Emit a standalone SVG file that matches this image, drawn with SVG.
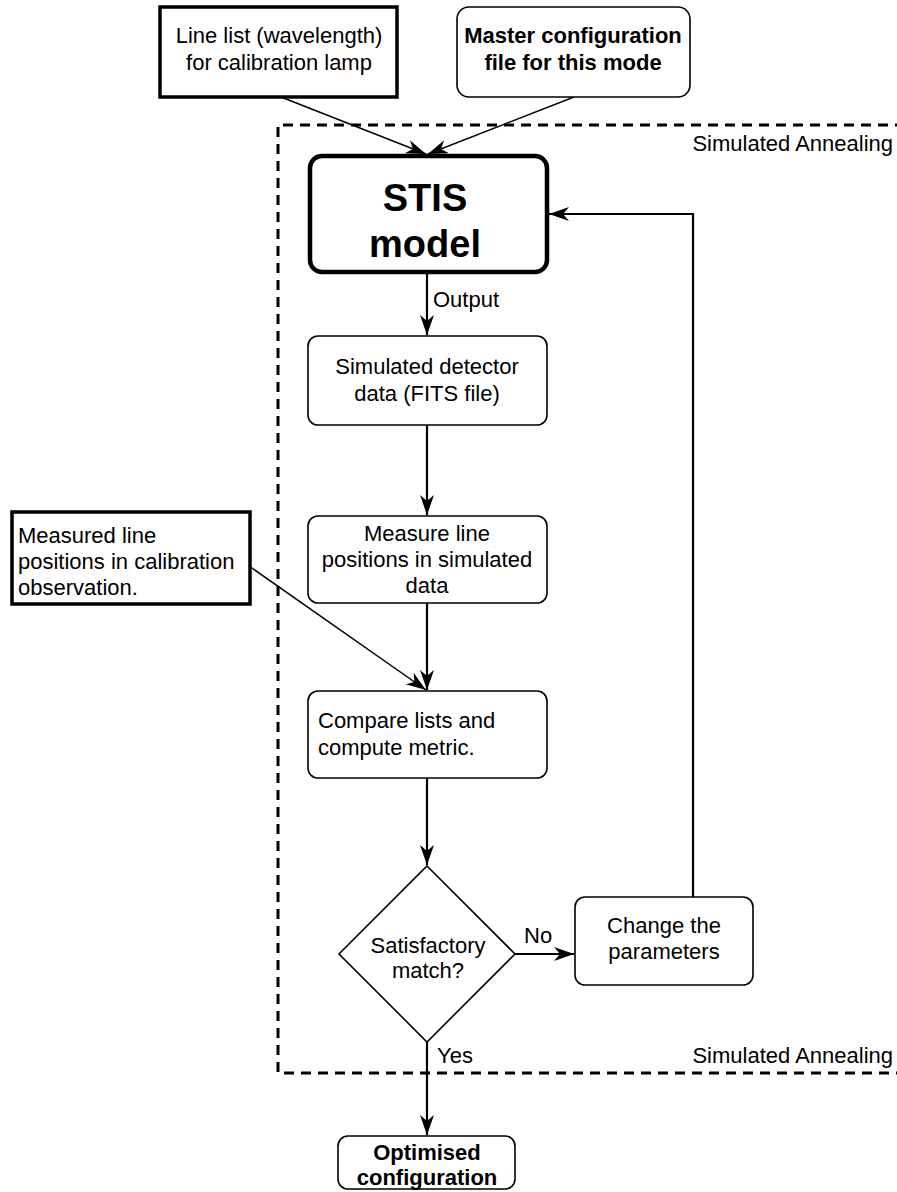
<svg xmlns="http://www.w3.org/2000/svg" width="897" height="1192" viewBox="0 0 897 1192">
  <style>
    text { font-family: "Liberation Sans", Arial, Helvetica, sans-serif; font-size: 22px; fill: #000; }
    .b { font-weight: bold; }
    .big { font-size: 38px; font-weight: bold; }
    .mid { text-anchor: middle; }
    .end { text-anchor: end; }
    .box { fill: #fff; stroke: #000; stroke-width: 1.6; }
    .heavy { fill: #fff; stroke: #000; stroke-width: 3.5; }
    .link { fill: none; stroke: #000; stroke-width: 2.2; }
    .thin { fill: none; stroke: #000; stroke-width: 1.5; }
    .frame { fill: none; stroke: #000; stroke-width: 3; stroke-dasharray: 10 7; }
  </style>
  <defs>
    <marker id="arrow" markerUnits="userSpaceOnUse" markerWidth="22" markerHeight="16" refX="20" refY="7" orient="auto">
      <path d="M0,0 L20,7 L0,14 L6,7 Z" fill="#000"/>
    </marker>
  </defs>

  <rect width="897" height="1192" fill="#fff"/>

  <!-- simulated annealing loop frame -->
  <g id="annealing-frame">
    <path class="frame" d="M905,125 H278 V1073 H905"/>
    <text class="end" x="893" y="151">Simulated Annealing</text>
    <text class="end" x="893" y="1063">Simulated Annealing</text>
  </g>

  <!-- connectors -->
  <g id="connectors">
    <path class="thin" d="M281,97 L426,154" marker-end="url(#arrow)"/>
    <path class="thin" d="M574,97 L428,154" marker-end="url(#arrow)"/>
    <path class="link" d="M427,273 V335" marker-end="url(#arrow)"/>
    <path class="link" d="M427,425 V515" marker-end="url(#arrow)"/>
    <path class="link" d="M427,603 V690" marker-end="url(#arrow)"/>
    <path class="thin" d="M249,566 L426,690" marker-end="url(#arrow)"/>
    <path class="link" d="M427,778 V865" marker-end="url(#arrow)"/>
    <path class="link" d="M515,954 H574" marker-end="url(#arrow)"/>
    <path class="link" d="M427,1042 V1135" marker-end="url(#arrow)"/>
    <path class="link" stroke-width="3" d="M693,897 V214 H549" marker-end="url(#arrow)"/>
    <text x="433" y="307">Output</text>
    <text x="524" y="943">No</text>
    <text x="437" y="1063">Yes</text>
  </g>

  <g id="line-list">
    <rect class="heavy" x="160" y="7" width="237" height="90"/>
    <text class="mid" x="279" y="43">Line list (wavelength)</text>
    <text class="mid" x="279" y="70">for calibration lamp</text>
  </g>

  <g id="master-config">
    <rect class="box" x="457" y="7" width="233" height="90" rx="12"/>
    <text class="mid b" x="573" y="43">Master configuration</text>
    <text class="mid b" x="573" y="70">file for this mode</text>
  </g>

  <g id="stis-model">
    <rect x="310" y="156" width="237" height="116" rx="12" fill="#fff" stroke="#000" stroke-width="4.5"/>
    <text class="mid big" x="425" y="211">STIS</text>
    <text class="mid big" x="425" y="257">model</text>
  </g>

  <g id="simulated-data">
    <rect class="box" x="308" y="336" width="239" height="89" rx="10"/>
    <text class="mid" x="427" y="374">Simulated detector</text>
    <text class="mid" x="427" y="401">data (FITS file)</text>
  </g>

  <g id="measure-lines">
    <rect class="box" x="308" y="516" width="239" height="87" rx="10"/>
    <text class="mid" x="427" y="541">Measure line</text>
    <text class="mid" x="427" y="567">positions in simulated</text>
    <text class="mid" x="427" y="593">data</text>
  </g>

  <g id="observed-lines">
    <rect class="heavy" x="12" y="512" width="238" height="92"/>
    <text x="18" y="543">Measured line</text>
    <text x="18" y="569">positions in calibration</text>
    <text x="18" y="595">observation.</text>
  </g>

  <g id="compare">
    <rect class="box" x="308" y="691" width="239" height="87" rx="10"/>
    <text x="318" y="728">Compare lists and</text>
    <text x="318" y="755">compute metric.</text>
  </g>

  <g id="decision">
    <path class="box" d="M427,866 L515,954 L427,1042 L339,954 Z"/>
    <text class="mid" x="428" y="953">Satisfactory</text>
    <text class="mid" x="428" y="978">match?</text>
  </g>

  <g id="change-parameters">
    <rect class="box" x="575" y="897" width="178" height="88" rx="10"/>
    <text class="mid" x="664" y="933">Change the</text>
    <text class="mid" x="664" y="959">parameters</text>
  </g>

  <g id="optimised">
    <rect class="box" x="338" y="1136" width="177" height="53" rx="10"/>
    <text class="mid b" x="427" y="1160">Optimised</text>
    <text class="mid b" x="427" y="1185">configuration</text>
  </g>
</svg>
